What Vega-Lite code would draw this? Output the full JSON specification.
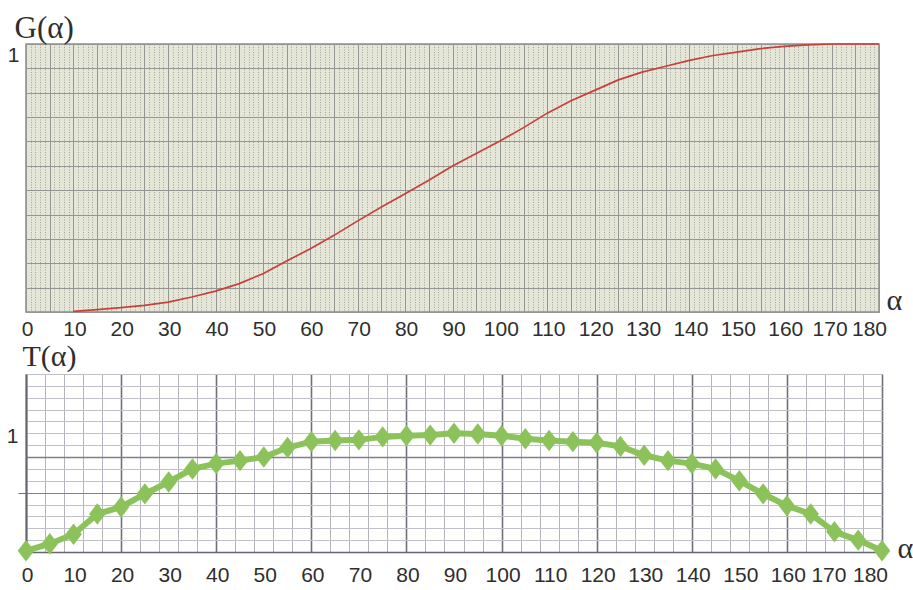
{
  "$schema": "https://vega.github.io/schema/vega-lite/v6.json",
  "padding": {"left": 5, "top": 11, "right": 0, "bottom": 0},
  "spacing": 0,
  "background": "white",
  "config": {
    "font": "Liberation Sans",
    "axis": {"labelFont": "Liberation Sans", "labelColor": "#2e2e2e", "titleColor": "#2e2e2e", "titleFontWeight": "normal"}
  },
  "datasets": {
    "G": [
      {"a": 10, "g": 0.002}, {"a": 15, "g": 0.009}, {"a": 20, "g": 0.016}, {"a": 25, "g": 0.025},
      {"a": 30, "g": 0.037}, {"a": 35, "g": 0.056}, {"a": 40, "g": 0.078}, {"a": 45, "g": 0.106},
      {"a": 50, "g": 0.143}, {"a": 55, "g": 0.19}, {"a": 60, "g": 0.236}, {"a": 65, "g": 0.286},
      {"a": 70, "g": 0.34}, {"a": 75, "g": 0.392}, {"a": 80, "g": 0.441}, {"a": 85, "g": 0.492},
      {"a": 90, "g": 0.545}, {"a": 95, "g": 0.591}, {"a": 100, "g": 0.638}, {"a": 105, "g": 0.688},
      {"a": 110, "g": 0.742}, {"a": 115, "g": 0.788}, {"a": 120, "g": 0.827}, {"a": 125, "g": 0.866},
      {"a": 130, "g": 0.895}, {"a": 135, "g": 0.917}, {"a": 140, "g": 0.939}, {"a": 145, "g": 0.957},
      {"a": 150, "g": 0.97}, {"a": 155, "g": 0.983}, {"a": 160, "g": 0.991}, {"a": 165, "g": 0.997},
      {"a": 170, "g": 1.0}, {"a": 175, "g": 1.0}, {"a": 180, "g": 1.0}
    ],
    "T": [
      {"a": 0, "t": 0.01}, {"a": 5, "t": 0.07}, {"a": 10, "t": 0.15}, {"a": 15, "t": 0.32},
      {"a": 20, "t": 0.38}, {"a": 25, "t": 0.49}, {"a": 30, "t": 0.59}, {"a": 35, "t": 0.7},
      {"a": 40, "t": 0.745}, {"a": 45, "t": 0.77}, {"a": 50, "t": 0.8}, {"a": 55, "t": 0.88},
      {"a": 60, "t": 0.93}, {"a": 65, "t": 0.94}, {"a": 70, "t": 0.945}, {"a": 75, "t": 0.97},
      {"a": 80, "t": 0.98}, {"a": 85, "t": 0.985}, {"a": 90, "t": 1.0}, {"a": 95, "t": 0.995},
      {"a": 100, "t": 0.98}, {"a": 105, "t": 0.955}, {"a": 110, "t": 0.94}, {"a": 115, "t": 0.93},
      {"a": 120, "t": 0.92}, {"a": 125, "t": 0.89}, {"a": 130, "t": 0.815}, {"a": 135, "t": 0.77},
      {"a": 140, "t": 0.745}, {"a": 145, "t": 0.7}, {"a": 150, "t": 0.6}, {"a": 155, "t": 0.49},
      {"a": 160, "t": 0.39}, {"a": 165, "t": 0.32}, {"a": 170, "t": 0.17}, {"a": 175, "t": 0.1},
      {"a": 180, "t": 0.01}
    ]
  },
  "vconcat": [
    {
      "width": 853,
      "height": 268,
      "view": {"fill": "#e4e6d7", "stroke": "#8c8c8c", "strokeWidth": 1.5},
      "data": {"name": "G"},
      "mark": {"type": "line", "color": "#c8403c", "strokeWidth": 1.7},
      "encoding": {
        "x": {
          "field": "a", "type": "quantitative",
          "scale": {"domain": [0, 180], "nice": false, "zero": false},
          "axis": {
            "values": [0,1,2,3,4,5,6,7,8,9,10,11,12,13,14,15,16,17,18,19,20,21,22,23,24,25,26,27,28,29,30,31,32,33,34,35,36,37,38,39,40,41,42,43,44,45,46,47,48,49,50,51,52,53,54,55,56,57,58,59,60,61,62,63,64,65,66,67,68,69,70,71,72,73,74,75,76,77,78,79,80,81,82,83,84,85,86,87,88,89,90,91,92,93,94,95,96,97,98,99,100,101,102,103,104,105,106,107,108,109,110,111,112,113,114,115,116,117,118,119,120,121,122,123,124,125,126,127,128,129,130,131,132,133,134,135,136,137,138,139,140,141,142,143,144,145,146,147,148,149,150,151,152,153,154,155,156,157,158,159,160,161,162,163,164,165,166,167,168,169,170,171,172,173,174,175,176,177,178,179,180],
            "grid": true,
            "gridColor": {"condition": {"test": "datum.value % 5 === 0", "value": "#959593"}, "value": "#a4a69a"},
            "gridDash": {"condition": {"test": "datum.value % 5 === 0", "value": []}, "value": [1, 1.5]},
            "gridWidth": 1,
            "ticks": false,
            "domain": false,
            "labelExpr": "datum.value % 10 === 0 ? datum.label : ''",
            "labelFontSize": 21,
            "labelPadding": 6,
            "labelFlush": false,
            "labelOverlap": false,
            "labelOffset": {"expr": "datum.value === 180 ? -10 : (datum.value === 170 ? -2 : 1)"},
            "title": "α",
            "titleFont": "Liberation Serif",
            "titleFontSize": 30,
            "titleX": 860,
            "titleY": -3,
            "titleAlign": "left",
            "titleBaseline": "alphabetic"
          }
        },
        "y": {
          "field": "g", "type": "quantitative",
          "scale": {"domain": [0, 1], "nice": false},
          "axis": {
            "values": [0, 0.0909, 0.1818, 0.2727, 0.3636, 0.4545, 0.5455, 0.6364, 0.7273, 0.8182, 0.9091, 1],
            "grid": true,
            "gridColor": "#959593",
            "gridWidth": 1,
            "ticks": false,
            "domain": false,
            "labelExpr": "datum.value === 1 ? '1' : ''",
            "labelFontSize": 21,
            "labelPadding": 7,
            "labelBaseline": "middle",
            "labelOffset": 11,
            "title": "G(α)",
            "titleFont": "Liberation Serif",
            "titleFontSize": 31,
            "titleAngle": 0,
            "titleX": -12,
            "titleY": -7,
            "titleAlign": "left",
            "titleBaseline": "alphabetic"
          }
        }
      }
    },
    {
      "width": 856,
      "height": 178,
      "view": {"fill": "white", "stroke": "#a0a0a8", "strokeWidth": 1},
      "data": {"name": "T"},
      "encoding": {
        "x": {
          "field": "a", "type": "quantitative",
          "scale": {"domain": [0, 180], "nice": false, "zero": false},
          "axis": {
            "values": [0,4,8,10,12,16,20,24,28,30,32,36,40,44,48,50,52,56,60,64,68,70,72,76,80,84,88,90,92,96,100,104,108,110,112,116,120,124,128,130,132,136,140,144,148,150,152,156,160,164,168,170,172,176,180],
            "grid": true,
            "gridOpacity": {"condition": {"test": "datum.value % 4 === 0", "value": 1}, "value": 0},
            "gridColor": {"condition": {"test": "datum.value % 20 === 0", "value": "#70707a"}, "value": "#b4b4be"},
            "gridWidth": {"condition": {"test": "datum.value % 20 === 0", "value": 1.6}, "value": 1},
            "ticks": false,
            "domain": true,
            "domainColor": "#666670",
            "domainWidth": 1.5,
            "labelExpr": "datum.value % 10 === 0 ? datum.label : ''",
            "labelFontSize": 21,
            "labelPadding": 12,
            "labelFlush": false,
            "labelOverlap": false,
            "labelOffset": {"expr": "datum.value === 180 ? -12 : (datum.value === 170 ? -6 : 1)"},
            "title": "α",
            "titleFont": "Liberation Serif",
            "titleFontSize": 30,
            "titleX": 871,
            "titleY": 5,
            "titleAlign": "left",
            "titleBaseline": "alphabetic"
          }
        },
        "y": {
          "field": "t", "type": "quantitative",
          "scale": {"domain": [0, 1.5], "nice": false},
          "axis": {
            "values": [0, 0.1, 0.2, 0.3, 0.4, 0.5, 0.6, 0.7, 0.8, 0.9, 1, 1.1, 1.2, 1.3, 1.4, 1.5],
            "grid": true,
            "gridColor": {"condition": {"test": "datum.value === 0.8 || datum.value === 0.5", "value": "#80808a"}, "value": "#c0c0c8"},
            "gridWidth": {"condition": {"test": "datum.value === 0.8", "value": 1.6}, "value": 1},
            "ticks": true,
            "tickSize": 8,
            "tickColor": "#70707a",
            "tickOpacity": {"condition": {"test": "datum.value === 0.5", "value": 1}, "value": 0},
            "domain": true,
            "domainColor": "#666670",
            "domainWidth": 2,
            "labelExpr": "datum.value === 1 ? '1' : ''",
            "labelFontSize": 21,
            "labelPadding": 0,
            "labelBaseline": "middle",
            "labelOffset": 3,
            "title": "T(α)",
            "titleFont": "Liberation Serif",
            "titleFontSize": 30,
            "titleAngle": 0,
            "titleX": -4,
            "titleY": -9,
            "titleAlign": "left",
            "titleBaseline": "alphabetic"
          }
        }
      },
      "layer": [
        {"mark": {"type": "line", "color": "#8cc25a", "strokeWidth": 6}},
        {"mark": {"type": "point", "filled": true, "opacity": 1, "color": "#8cc25a", "shape": "M0,-1.1L0.85,0L0,1.1L-0.85,0Z", "size": 380}}
      ]
    }
  ]
}
